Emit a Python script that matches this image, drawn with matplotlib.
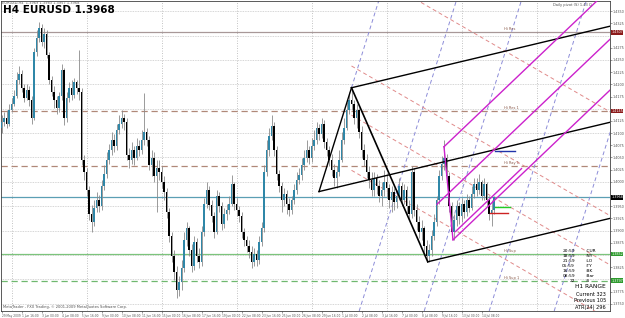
import matplotlib
matplotlib.use("Agg")
import matplotlib.pyplot as plt
import matplotlib.transforms as mtransforms
import numpy as np

# EURUSD H4 candles, first bar 29 May 2009 08:00
first_open = 1.4111
closes = [1.4123, 1.4131, 1.4119, 1.4148, 1.4160, 1.4176, 1.4209, 1.4221, 1.4193, 1.4172,
          1.4189, 1.4168, 1.4131, 1.4266, 1.4295, 1.4316, 1.4287, 1.4303, 1.4260, 1.4209,
          1.4184, 1.4168, 1.4152, 1.4176, 1.4230, 1.4131, 1.4172, 1.4193, 1.4178, 1.4205,
          1.4193, 1.4184, 1.4045, 1.4020, 1.3984, 1.3934, 1.3918, 1.3947, 1.3963, 1.3951,
          1.3992, 1.4016, 1.4045, 1.4066, 1.4086, 1.4074, 1.4107, 1.4119, 1.4131, 1.4123,
          1.4055, 1.4045, 1.4066, 1.4049, 1.4074, 1.4066, 1.4086, 1.4102, 1.4086, 1.4035,
          1.4049, 1.4012, 1.4029, 1.4020, 1.4000, 1.3979, 1.3938, 1.3889, 1.3848, 1.3815,
          1.3779, 1.3795, 1.3824, 1.3881, 1.3906, 1.3861, 1.3828, 1.3877, 1.3848, 1.3836,
          1.3897, 1.3955, 1.3984, 1.3953, 1.3930, 1.3897, 1.3971, 1.3951, 1.3914, 1.3934,
          1.3943, 1.3955, 1.3996, 1.3955, 1.3943, 1.3930, 1.3897, 1.3881, 1.3869, 1.3856,
          1.3836, 1.3852, 1.3840, 1.3877, 1.3906, 1.4020, 1.4066, 1.4094, 1.4115, 1.4066,
          1.4016, 1.3992, 1.3963, 1.3975, 1.3955, 1.3943, 1.3963, 1.3984, 1.4004, 1.4014,
          1.4035, 1.4049, 1.4066, 1.4049, 1.4074, 1.4086, 1.4111, 1.4098, 1.4119, 1.4082,
          1.4066, 1.4045, 1.4025, 1.4008, 1.4020, 1.4045, 1.4086, 1.4111, 1.4148, 1.4168,
          1.4160, 1.4131, 1.4148, 1.4102, 1.4066, 1.4045, 1.4020, 1.4004, 1.3984, 1.4008,
          1.3992, 1.3971, 1.3984, 1.4000, 1.3988, 1.3963, 1.3979, 1.3959, 1.3971, 1.3992,
          1.3963, 1.3984, 1.3951, 1.3934, 1.4020, 1.3943, 1.3918, 1.3897, 1.3906, 1.3869,
          1.3848, 1.3861, 1.3889, 1.3918, 1.3963, 1.4012, 1.4037, 1.4049, 1.4012, 1.3951,
          1.3897, 1.3922, 1.3951, 1.3930, 1.3955, 1.3938, 1.3963, 1.3947, 1.3975, 1.3996,
          1.3984, 1.4000, 1.3971, 1.3996, 1.3963, 1.3934, 1.3943, 1.3968]
highs = [1.4137, 1.4143, 1.4148, 1.4160, 1.4172, 1.4189, 1.4225, 1.4238, 1.4230, 1.4201,
         1.4201, 1.4197, 1.4176, 1.4275, 1.4312, 1.4328, 1.4324, 1.4316, 1.4312, 1.4266,
         1.4217, 1.4197, 1.4176, 1.4184, 1.4242, 1.4234, 1.4184, 1.4205, 1.4209, 1.4213,
         1.4209, 1.4271, 1.4193, 1.4055, 1.4029, 1.3992, 1.3953, 1.3963, 1.3979, 1.3973,
         1.4004, 1.4035, 1.4061, 1.4078, 1.4102, 1.4098, 1.4119, 1.4137, 1.4148, 1.4139,
         1.4131, 1.4070, 1.4082, 1.4074, 1.4090, 1.4086, 1.4107, 1.4182, 1.4111, 1.4094,
         1.4066, 1.4061, 1.4045, 1.4045, 1.4033, 1.4012, 1.3988, 1.3947, 1.3897, 1.3861,
         1.3828, 1.3807, 1.3840, 1.3897, 1.3918, 1.3910, 1.3873, 1.3889, 1.3885, 1.3865,
         1.3910, 1.3967, 1.4000, 1.3992, 1.3963, 1.3938, 1.3984, 1.3979, 1.3959, 1.3947,
         1.3955, 1.3971, 1.4014, 1.4000, 1.3967, 1.3951, 1.3938, 1.3906, 1.3889, 1.3881,
         1.3869, 1.3865, 1.3861, 1.3889, 1.3918, 1.4035, 1.4086, 1.4111, 1.4137, 1.4123,
         1.4074, 1.4025, 1.4000, 1.3988, 1.3984, 1.3967, 1.3971, 1.3996, 1.4020, 1.4029,
         1.4049, 1.4066, 1.4086, 1.4074, 1.4090, 1.4107, 1.4123, 1.4119, 1.4131, 1.4127,
         1.4090, 1.4074, 1.4057, 1.4037, 1.4033, 1.4066, 1.4102, 1.4131, 1.4164, 1.4184,
         1.4193, 1.4168, 1.4160, 1.4152, 1.4115, 1.4078, 1.4057, 1.4033, 1.4020, 1.4020,
         1.4016, 1.4004, 1.4000, 1.4025, 1.4016, 1.3996, 1.3992, 1.3988, 1.3984, 1.4008,
         1.4000, 1.3996, 1.3992, 1.3963, 1.4033, 1.4029, 1.3955, 1.3930, 1.3922, 1.3910,
         1.3881, 1.3873, 1.3902, 1.3934, 1.3971, 1.4025, 1.4053, 1.4086, 1.4057, 1.4020,
         1.3959, 1.3934, 1.3963, 1.3959, 1.3967, 1.3963, 1.3975, 1.3971, 1.3992, 1.4008,
         1.4008, 1.4016, 1.4004, 1.4008, 1.4000, 1.3971, 1.3963, 1.3971]
lows = [1.4100, 1.4115, 1.4111, 1.4115, 1.4143, 1.4156, 1.4172, 1.4201, 1.4184, 1.4164,
        1.4168, 1.4156, 1.4119, 1.4127, 1.4258, 1.4287, 1.4279, 1.4275, 1.4254, 1.4201,
        1.4176, 1.4152, 1.4139, 1.4143, 1.4168, 1.4117, 1.4123, 1.4164, 1.4168, 1.4172,
        1.4180, 1.4168, 1.4035, 1.4004, 1.3971, 1.3922, 1.3897, 1.3910, 1.3938, 1.3938,
        1.3943, 1.3984, 1.4008, 1.4037, 1.4055, 1.4061, 1.4066, 1.4098, 1.4111, 1.4107,
        1.4045, 1.4029, 1.4037, 1.4035, 1.4045, 1.4053, 1.4057, 1.4076, 1.4074, 1.4025,
        1.4012, 1.4000, 1.3938, 1.4004, 1.3988, 1.3963, 1.3926, 1.3877, 1.3836, 1.3799,
        1.3762, 1.3766, 1.3779, 1.3815, 1.3869, 1.3848, 1.3815, 1.3820, 1.3836, 1.3824,
        1.3828, 1.3889, 1.3947, 1.3943, 1.3918, 1.3885, 1.3893, 1.3938, 1.3902, 1.3906,
        1.3922, 1.3934, 1.3951, 1.3943, 1.3930, 1.3918, 1.3885, 1.3869, 1.3856, 1.3844,
        1.3824, 1.3828, 1.3828, 1.3832, 1.3869, 1.3897, 1.4012, 1.4053, 1.4086, 1.4053,
        1.4004, 1.3979, 1.3938, 1.3951, 1.3934, 1.3930, 1.3934, 1.3955, 1.3975, 1.3996,
        1.4004, 1.4025, 1.4041, 1.4037, 1.4041, 1.4066, 1.4078, 1.4086, 1.4090, 1.4070,
        1.4053, 1.4033, 1.4012, 1.3992, 1.3988, 1.4012, 1.4041, 1.4078, 1.4107, 1.4139,
        1.4148, 1.4119, 1.4111, 1.4090, 1.4049, 1.4033, 1.4008, 1.3988, 1.3971, 1.3971,
        1.3975, 1.3959, 1.3951, 1.3971, 1.3967, 1.3947, 1.3938, 1.3943, 1.3947, 1.3963,
        1.3951, 1.3955, 1.3934, 1.3922, 1.3926, 1.3930, 1.3902, 1.3885, 1.3881, 1.3856,
        1.3836, 1.3836, 1.3848, 1.3881, 1.3910, 1.3955, 1.4004, 1.4025, 1.4000, 1.3938,
        1.3885, 1.3881, 1.3910, 1.3914, 1.3918, 1.3926, 1.3930, 1.3938, 1.3943, 1.3967,
        1.3971, 1.3975, 1.3963, 1.3963, 1.3951, 1.3922, 1.3910, 1.3934]

date_ticks = [0, 8, 16, 24, 32, 40, 48, 56, 64, 72, 80, 88, 96, 104, 112, 120, 128,
              136, 144, 152, 160, 168, 176, 184, 192]
date_labels = ["29 May 2009", "1 Jun 16:00", "3 Jun 00:00", "4 Jun 08:00", "5 Jun 16:00",
               "9 Jun 00:00", "10 Jun 08:00", "11 Jun 16:00", "15 Jun 00:00", "16 Jun 08:00",
               "17 Jun 16:00", "19 Jun 00:00", "22 Jun 08:00", "23 Jun 16:00", "25 Jun 00:00",
               "26 Jun 08:00", "29 Jun 16:00", "1 Jul 00:00", "2 Jul 08:00", "3 Jul 16:00",
               "7 Jul 00:00", "8 Jul 08:00", "9 Jul 16:00", "13 Jul 00:00", "14 Jul 08:00"]
week_bars = [4, 34, 64, 94, 124, 154, 184, 214]

# support / resistance levels
level_prices = [1.4307, 1.4145, 1.4033, 1.3968, 1.3852, 1.3797]
level_names = ["Hi Res", "Hi Res 1", "Hi Ray 1", "", "Hi Sup", "Hi Sup 1"]

# pitchfork anchors (bar, price)
fork_bars = [127, 140, 170.5]
fork_prices = [1.3980, 1.4193, 1.3836]
mfork_bars = [174.2, 177, 180.6]
mfork_prices = [1.3954, 1.4072, 1.3881]

# dashed helper lines
blue_dash_bars = [144.6, 170.6, 196.6, 222.6]   # bar where each line hits 1.3760
pink_dash_prices = [1.4203, 1.3990, 1.3889, 1.3776]  # price at bar 223.4

info_rows = ["20:59 :CUR", "18:59 :NY", "21:59 :LO", "05:59 :TY", "16:59 :BK", "08:59 :Bar", "22 :S"]
range_rows = ["H1 RANGE", "Current 323", "Previous 105", "ATR(24) 296"]

W, H = 625, 318
fig = plt.figure(figsize=(W / 100, H / 100), dpi=100)
fig.patch.set_facecolor("white")
ax = fig.add_axes([1 / W, 7 / H, 609 / W, 310 / H])
x_left, x_right = -0.2, 243.4
p_top, p_bot = 1.4371, 1.3735
ax.set_xlim(x_left, x_right)
ax.set_ylim(p_bot, p_top)

# grid
for p in np.arange(1.3750, 1.4400, 0.0050):
    ax.axhline(p, color="#c8c8c8", lw=0.6, ls=(0, (1, 1)), zorder=0)
for b in week_bars:
    ax.axvline(b, color="#b0b0b0", lw=0.6, ls=(0, (1, 2)), zorder=0)

# levels
level_colors = ["#a89898", "#b08878", "#b08878", "#5b9fb4", "#7cc47c", "#6fb86f"]
level_styles = ["-", (0, (5, 3)), (0, (5, 3)), "-", "-", (0, (5, 3))]
for p, c, s in zip(level_prices, level_colors, level_styles):
    ax.axhline(p, color=c, lw=0.9, ls=s, zorder=1)
for p, name in zip(level_prices, level_names):
    if name:
        ax.text(201, p + 0.0002, name, fontsize=2.6, color="#8a5a4a", va="bottom")

# candles
n = len(closes)
xs = np.arange(n)
opens = np.array([first_open] + closes[:-1])
closes_a = np.array(closes)
up = closes_a >= opens
ax.vlines(xs, lows, highs, color="#8a8a8a", lw=0.6, zorder=3)
body_lo = np.minimum(opens, closes_a)
body_h = np.maximum(np.abs(closes_a - opens), 0.00008)
ax.bar(xs[up], body_h[up], bottom=body_lo[up], width=0.6, color="#2f87a8", lw=0, zorder=4)
ax.bar(xs[~up], body_h[~up], bottom=body_lo[~up], width=0.6, color="black", lw=0, zorder=4)

# black pitchfork
(a_b, b_b, c_b), (a_p, b_p, c_p) = fork_bars, fork_prices
mid_b, mid_p = (b_b + c_b) / 2, (b_p + c_p) / 2
slope = (mid_p - a_p) / (mid_b - a_b)
for sb, sp in [(a_b, a_p), (b_b, b_p), (c_b, c_p)]:
    ax.plot([sb, x_right], [sp, sp + slope * (x_right - sb)], color="black", lw=1.0, zorder=5)
ax.plot([a_b, b_b], [a_p, b_p], color="black", lw=1.0, zorder=5)
ax.plot([b_b, c_b], [b_p, c_p], color="black", lw=1.2, zorder=5)

# magenta pitchfork
(a_b, b_b, c_b), (a_p, b_p, c_p) = mfork_bars, mfork_prices
mid_b, mid_p = (b_b + c_b) / 2, (b_p + c_p) / 2
mslope = (mid_p - a_p) / (mid_b - a_b)
for sb, sp in [(a_b, a_p), (b_b, b_p), (c_b, c_p)]:
    ax.plot([sb, x_right], [sp, sp + mslope * (x_right - sb)], color="#cc22cc", lw=1.0, zorder=5)
ax.plot([b_b, c_b], [b_p, c_p], color="#cc22cc", lw=1.0, zorder=5)
ax.plot([c_b + 1, 208], [c_p + 0.0017, c_p + 0.0017 + mslope * (207 - c_b)], color="#cc22cc", lw=1.0, zorder=5)

# short markers at the last bar
ax.plot([197.4, 205.4], [1.4063, 1.4063], color="#2233aa", lw=1.0, zorder=5)
ax.plot([197.4, 203.4], [1.3949, 1.3949], color="#22cc22", lw=1.0, zorder=5)
ax.plot([195.4, 202.6], [1.3936, 1.3936], color="#cc2222", lw=1.0, zorder=5)

# dashed helper lines
bslope = (fork_prices[1] - fork_prices[0]) / (fork_bars[1] - fork_bars[0])
for b0 in blue_dash_bars:
    b1 = b0 + (p_top - 1.3760) / bslope
    b2 = b0 + (p_bot - 1.3760) / bslope
    ax.plot([b2, b1], [p_bot, p_top], color="#8c8cd8", lw=0.7, ls=(0, (4, 3)), zorder=2)
# A-B handle carried on above the high
ax.plot([fork_bars[1], fork_bars[1] + (p_top - fork_prices[1]) / bslope], [fork_prices[1], p_top],
        color="#8c8cd8", lw=0.7, ls=(0, (4, 3)), zorder=2)
pslope = -0.000297
for p0 in pink_dash_prices:
    ax.plot([140, x_right], [p0 + pslope * (140 - 223.4), p0 + pslope * (x_right - 223.4)],
            color="#e08a8a", lw=0.7, ls=(0, (4, 3)), zorder=2)

# axes
for sp in ax.spines.values():
    sp.set_color("#404040")
    sp.set_linewidth(0.6)
hilite = [(1.4307, "#8b1a1a"), (1.4145, "#8b1a1a"), (1.3968, "black"),
          (1.3852, "#2e9a2e"), (1.3797, "#2e9a2e")]
yt = [v for v in np.arange(1.3750, 1.4375, 0.0025)
      if min(abs(v - h) for h, _ in hilite) > 0.0011]
ax.yaxis.tick_right()
ax.set_yticks(yt)
ax.yaxis.set_major_formatter(plt.FuncFormatter(lambda v, _: f"{v:.4f}"))
ax.tick_params(axis="y", labelsize=2.4, length=1.2, width=0.4, colors="#505050", pad=0.4)
ax.set_xticks(date_ticks)
ax.set_xticklabels(date_labels, ha="left")
ax.tick_params(axis="x", labelsize=2.1, length=1.5, width=0.4, colors="#505050", pad=0.5)

# highlighted price labels on the axis
trans = mtransforms.blended_transform_factory(ax.transAxes, ax.transData)
for p, fc in hilite:
    ax.text(1.002, p, f"{p:.4f}", transform=trans, fontsize=2.4, color="white",
            va="center", ha="left", bbox=dict(boxstyle="square,pad=0.1", fc=fc, ec="none"))

# texts
fig.text(2 / W, 1 - 3 / H, "EURUSD,H4  1.3969 1.3983 1.3957 1.3968", fontsize=2.6, color="#606060", va="center")
fig.text(3 / W, 1 - 10 / H, "H4 EURUSD 1.3968", fontsize=7.5, fontweight="bold", color="black", va="center")
fig.text(3 / W, 1 - 307 / H, "MetaTrader - FXX Trading, \u00a9 2001-2009 MetaQuotes Software Corp.",
         fontsize=2.6, color="#505050", va="center")
fig.text(592 / W, 1 - 5 / H, "Daily pivot (S) 1.43 Q", fontsize=2.6, color="#505050", va="center", ha="right")
for k, row in enumerate(info_rows):
    t, lab = row.split(" ")
    fig.text(575 / W, 1 - (251 + 5 * k) / H, t, fontsize=3.2, color="black", va="center", ha="right")
    fig.text(585 / W, 1 - (251 + 5 * k) / H, lab, fontsize=3.2, color="black", va="center", ha="left")
for k, row in enumerate(range_rows):
    fig.text(606 / W, 1 - (287 + 7 * k) / H, row, fontsize=4.2 if k == 0 else 3.6,
             color="black", va="center", ha="right")

fig.savefig("out.png", dpi=100)
